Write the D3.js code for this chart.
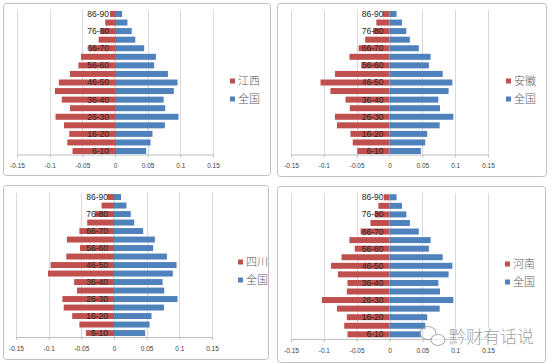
<!DOCTYPE html>
<html><head><meta charset="utf-8">
<script src="https://cdn.jsdelivr.net/npm/d3@7"></script>
<style>
html,body{margin:0;padding:0;background:#fff;}
svg{display:block;}
</style></head>
<body>
<svg id="chart" width="557" height="364"></svg>
<script>
const categories = ["86-90","81-85","76-80","71-75","66-70","61-65","56-60","51-55","46-50","41-45","36-40","31-35","26-30","21-25","16-20","11-15","6-10"];
const shownLabels = ["86-90","76-80","66-70","56-60","46-50","36-40","26-30","16-20","6-10"];
const national = [0.0108,0.019,0.0256,0.031,0.0446,0.0626,0.060,0.081,0.0957,0.090,0.0744,0.0769,0.0972,0.0764,0.0574,0.0544,0.0477];
const jiangxi  = [0.0077,0.0149,0.022,0.025,0.040,0.052,0.056,0.069,0.086,0.092,0.0815,0.069,0.091,0.078,0.070,0.073,0.065];
const anhui    = [0.010,0.020,0.025,0.037,0.047,0.061,0.043,0.083,0.105,0.090,0.067,0.0605,0.083,0.080,0.0595,0.056,0.049];
const sichuan  = [0.010,0.019,0.029,0.041,0.053,0.072,0.052,0.073,0.097,0.101,0.061,0.0565,0.079,0.077,0.064,0.053,0.043];
const henan    = [0.0086,0.017,0.022,0.029,0.044,0.061,0.053,0.073,0.089,0.0785,0.064,0.065,0.103,0.080,0.065,0.069,0.064];
const provinceNames = ["江西","安徽","四川","河南"];
const nationalName = "全国";
const tickValues = [-0.15,-0.1,-0.05,0,0.05,0.1,0.15];
const tickLabels = ["-0.15","-0.1","-0.05","0","0.05","0.1","0.15"];

const RED = "#C0504D", BLUE = "#4F81BD";
const svg = d3.select("#chart");

const panels = [
  {data: jiangxi, name: provinceNames[0], frame:[3,3,267,172], xr:[17,213], yr:[9.7,155.3], axisY:154.5, leg:[230,81]},
  {data: anhui,   name: provinceNames[1], frame:[277,3,269,173], xr:[291,488], yr:[9.7,155.3], axisY:154.5, leg:[506,81]},
  {data: sichuan, name: provinceNames[2], frame:[3,185,265,174], xr:[16,212], yr:[192.8,337.3], axisY:337, leg:[238,262]},
  {data: henan,   name: provinceNames[3], frame:[277,186,268,176], xr:[291,488], yr:[193,338.6], axisY:339, leg:[505,264]}
];

panels.forEach(p => {
  const g = svg.append("g");
  g.append("rect").attr("x",p.frame[0]+0.5).attr("y",p.frame[1]+0.5)
    .attr("width",p.frame[2]).attr("height",p.frame[3])
    .attr("rx",3).attr("fill","#fff").attr("stroke","#bfbfbf").attr("stroke-width",1);

  const x = d3.scaleLinear().domain([-0.15,0.15]).range(p.xr);
  const y = d3.scaleBand().domain(categories).range(p.yr).paddingInner(0.3).paddingOuter(0.15);

  // gridlines
  g.selectAll("line.grid").data(tickValues).join("line")
    .attr("x1",d=>Math.round(x(d))+0.5).attr("x2",d=>Math.round(x(d))+0.5)
    .attr("y1",p.yr[0]).attr("y2",p.axisY)
    .attr("stroke","#d9d9d9").attr("stroke-width",1);

  // bars
  g.selectAll("rect.prov").data(p.data).join("rect")
    .attr("x",d=>x(-d)).attr("width",d=>x(0)-x(-d))
    .attr("y",(d,i)=>y(categories[i])).attr("height",y.bandwidth())
    .attr("fill",RED);
  g.selectAll("rect.nat").data(national).join("rect")
    .attr("x",x(0)).attr("width",d=>x(d)-x(0))
    .attr("y",(d,i)=>y(categories[i])).attr("height",y.bandwidth())
    .attr("fill",BLUE);

  // category labels
  g.selectAll("text.cat").data(shownLabels).join("text")
    .attr("x",x(0)-6).attr("y",d=>y(d)+y.bandwidth()/2)
    .attr("dy","0.35em").attr("text-anchor","end")
    .attr("font-family","Liberation Sans, Arial, sans-serif").attr("font-size",8.5)
    .attr("fill","#262626").text(d=>d);

  // x axis
  const axis = d3.axisBottom(x).tickValues(tickValues).tickFormat((d,i)=>tickLabels[i]).tickSize(3).tickSizeOuter(0);
  const ag = g.append("g").attr("transform",`translate(0,${p.axisY})`).call(axis);
  ag.select(".domain").attr("stroke","#bfbfbf");
  ag.selectAll(".tick line").attr("stroke","#bfbfbf");
  ag.selectAll(".tick text").attr("font-family","Liberation Sans, Arial, sans-serif")
    .attr("font-size",6.5).attr("fill","#404040").attr("y",9);

  // legend
  const lg = g.append("g");
  [[p.name,RED],[nationalName,BLUE]].forEach((d,i)=>{
    const cy = p.leg[1] + i*18;
    lg.append("rect").attr("x",p.leg[0]).attr("y",cy-2.5).attr("width",5).attr("height",5).attr("fill",d[1]);
    lg.append("text").attr("x",p.leg[0]+8).attr("y",cy).attr("dy","0.36em")
      .attr("font-family","Noto Sans CJK SC, sans-serif").attr("font-size",11)
      .attr("font-weight",300).attr("fill","#595959").text(d[0]);
  });
});

// watermark
const wm = svg.append("g").attr("opacity",0.75);
wm.append("ellipse").attr("cx",428).attr("cy",333).attr("rx",8).attr("ry",6.5)
  .attr("fill","none").attr("stroke","#999").attr("stroke-width",1.2);
wm.append("ellipse").attr("cx",438).attr("cy",340).attr("rx",7).attr("ry",5.5)
  .attr("fill","#fff").attr("stroke","#999").attr("stroke-width",1.2);
wm.append("text").attr("x",449).attr("y",337).attr("dy","0.35em")
  .attr("font-family","Noto Sans CJK SC, sans-serif").attr("font-size",17).attr("font-weight",300)
  .attr("fill","#7f7f7f").attr("stroke","#fff").attr("stroke-width",2.5).attr("paint-order","stroke")
  .text("黔财有话说");
</script>
</body></html>
